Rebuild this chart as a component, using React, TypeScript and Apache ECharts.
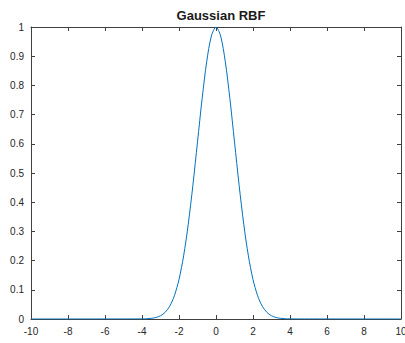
import React, { useEffect, useRef } from "react";
import * as echarts from "echarts";

const xValues = [-10, -4, -3.75, -3.5, -3.25, -3, -2.75, -2.5, -2.25, -2, -1.75, -1.5, -1.25, -1, -0.75, -0.5, -0.25, 0, 0.25, 0.5, 0.75, 1, 1.25, 1.5, 1.75, 2, 2.25, 2.5, 2.75, 3, 3.25, 3.5, 3.75, 4, 10];
const yValues = [0, 0.0003, 0.0009, 0.0022, 0.0051, 0.0111, 0.0228, 0.0439, 0.0796, 0.1353, 0.2163, 0.3247, 0.4578, 0.6065, 0.7548, 0.8825, 0.9692, 1, 0.9692, 0.8825, 0.7548, 0.6065, 0.4578, 0.3247, 0.2163, 0.1353, 0.0796, 0.0439, 0.0228, 0.0111, 0.0051, 0.0022, 0.0009, 0.0003, 0];
const titleText = "Gaussian RBF";

export default function App() {
  const ref = useRef<HTMLDivElement>(null);
  useEffect(() => {
    if (!ref.current) return;
    const chart = echarts.init(ref.current, undefined, { renderer: "svg" });
    const axisColor = "#404040";
    const font = "'Liberation Sans', Arial, Helvetica, sans-serif";
    const baseX = {
      type: "value" as const,
      min: -10,
      max: 10,
      interval: 2,
      axisLine: { show: true, onZero: false, lineStyle: { color: axisColor, width: 1 } },
      axisTick: { show: true, inside: true, length: 4, lineStyle: { color: axisColor } },
      splitLine: { show: false },
    };
    const baseY = {
      type: "value" as const,
      min: 0,
      max: 1,
      interval: 0.1,
      axisLine: { show: true, onZero: false, lineStyle: { color: axisColor, width: 1 } },
      axisTick: { show: true, inside: true, length: 4, lineStyle: { color: axisColor } },
      splitLine: { show: false },
    };
    chart.setOption({
      animation: false,
      backgroundColor: "#ffffff",
      title: {
        text: titleText,
        left: 216,
        top: 4,
        textAlign: "center",
        textStyle: { fontFamily: font, fontSize: 13, fontWeight: "bold", color: "#1a1a1a" },
      },
      grid: { left: 31, right: 4, top: 27, bottom: 24, containLabel: false, outerBoundsMode: "none" },
      xAxis: [
        {
          ...baseX,
          position: "bottom",
          axisLabel: { fontFamily: font, fontSize: 10, color: "#262626", margin: 7 },
        },
        { ...baseX, position: "top", axisLabel: { show: false } },
      ],
      yAxis: [
        {
          ...baseY,
          position: "left",
          axisLabel: { fontFamily: font, fontSize: 10, color: "#262626", margin: 7 },
        },
        { ...baseY, position: "right", axisLabel: { show: false } },
      ],
      series: [
        {
          type: "line",
          data: xValues.map((x, i) => [x, yValues[i]]),
          smooth: 0.3,
          showSymbol: false,
          lineStyle: { color: "#0072BD", width: 1 },
          xAxisIndex: 0,
          yAxisIndex: 0,
        },
      ],
    });
    return () => chart.dispose();
  }, []);
  return <div ref={ref} style={{ position: "absolute", left: 0, top: 0, width: 405, height: 343 }} />;
}
